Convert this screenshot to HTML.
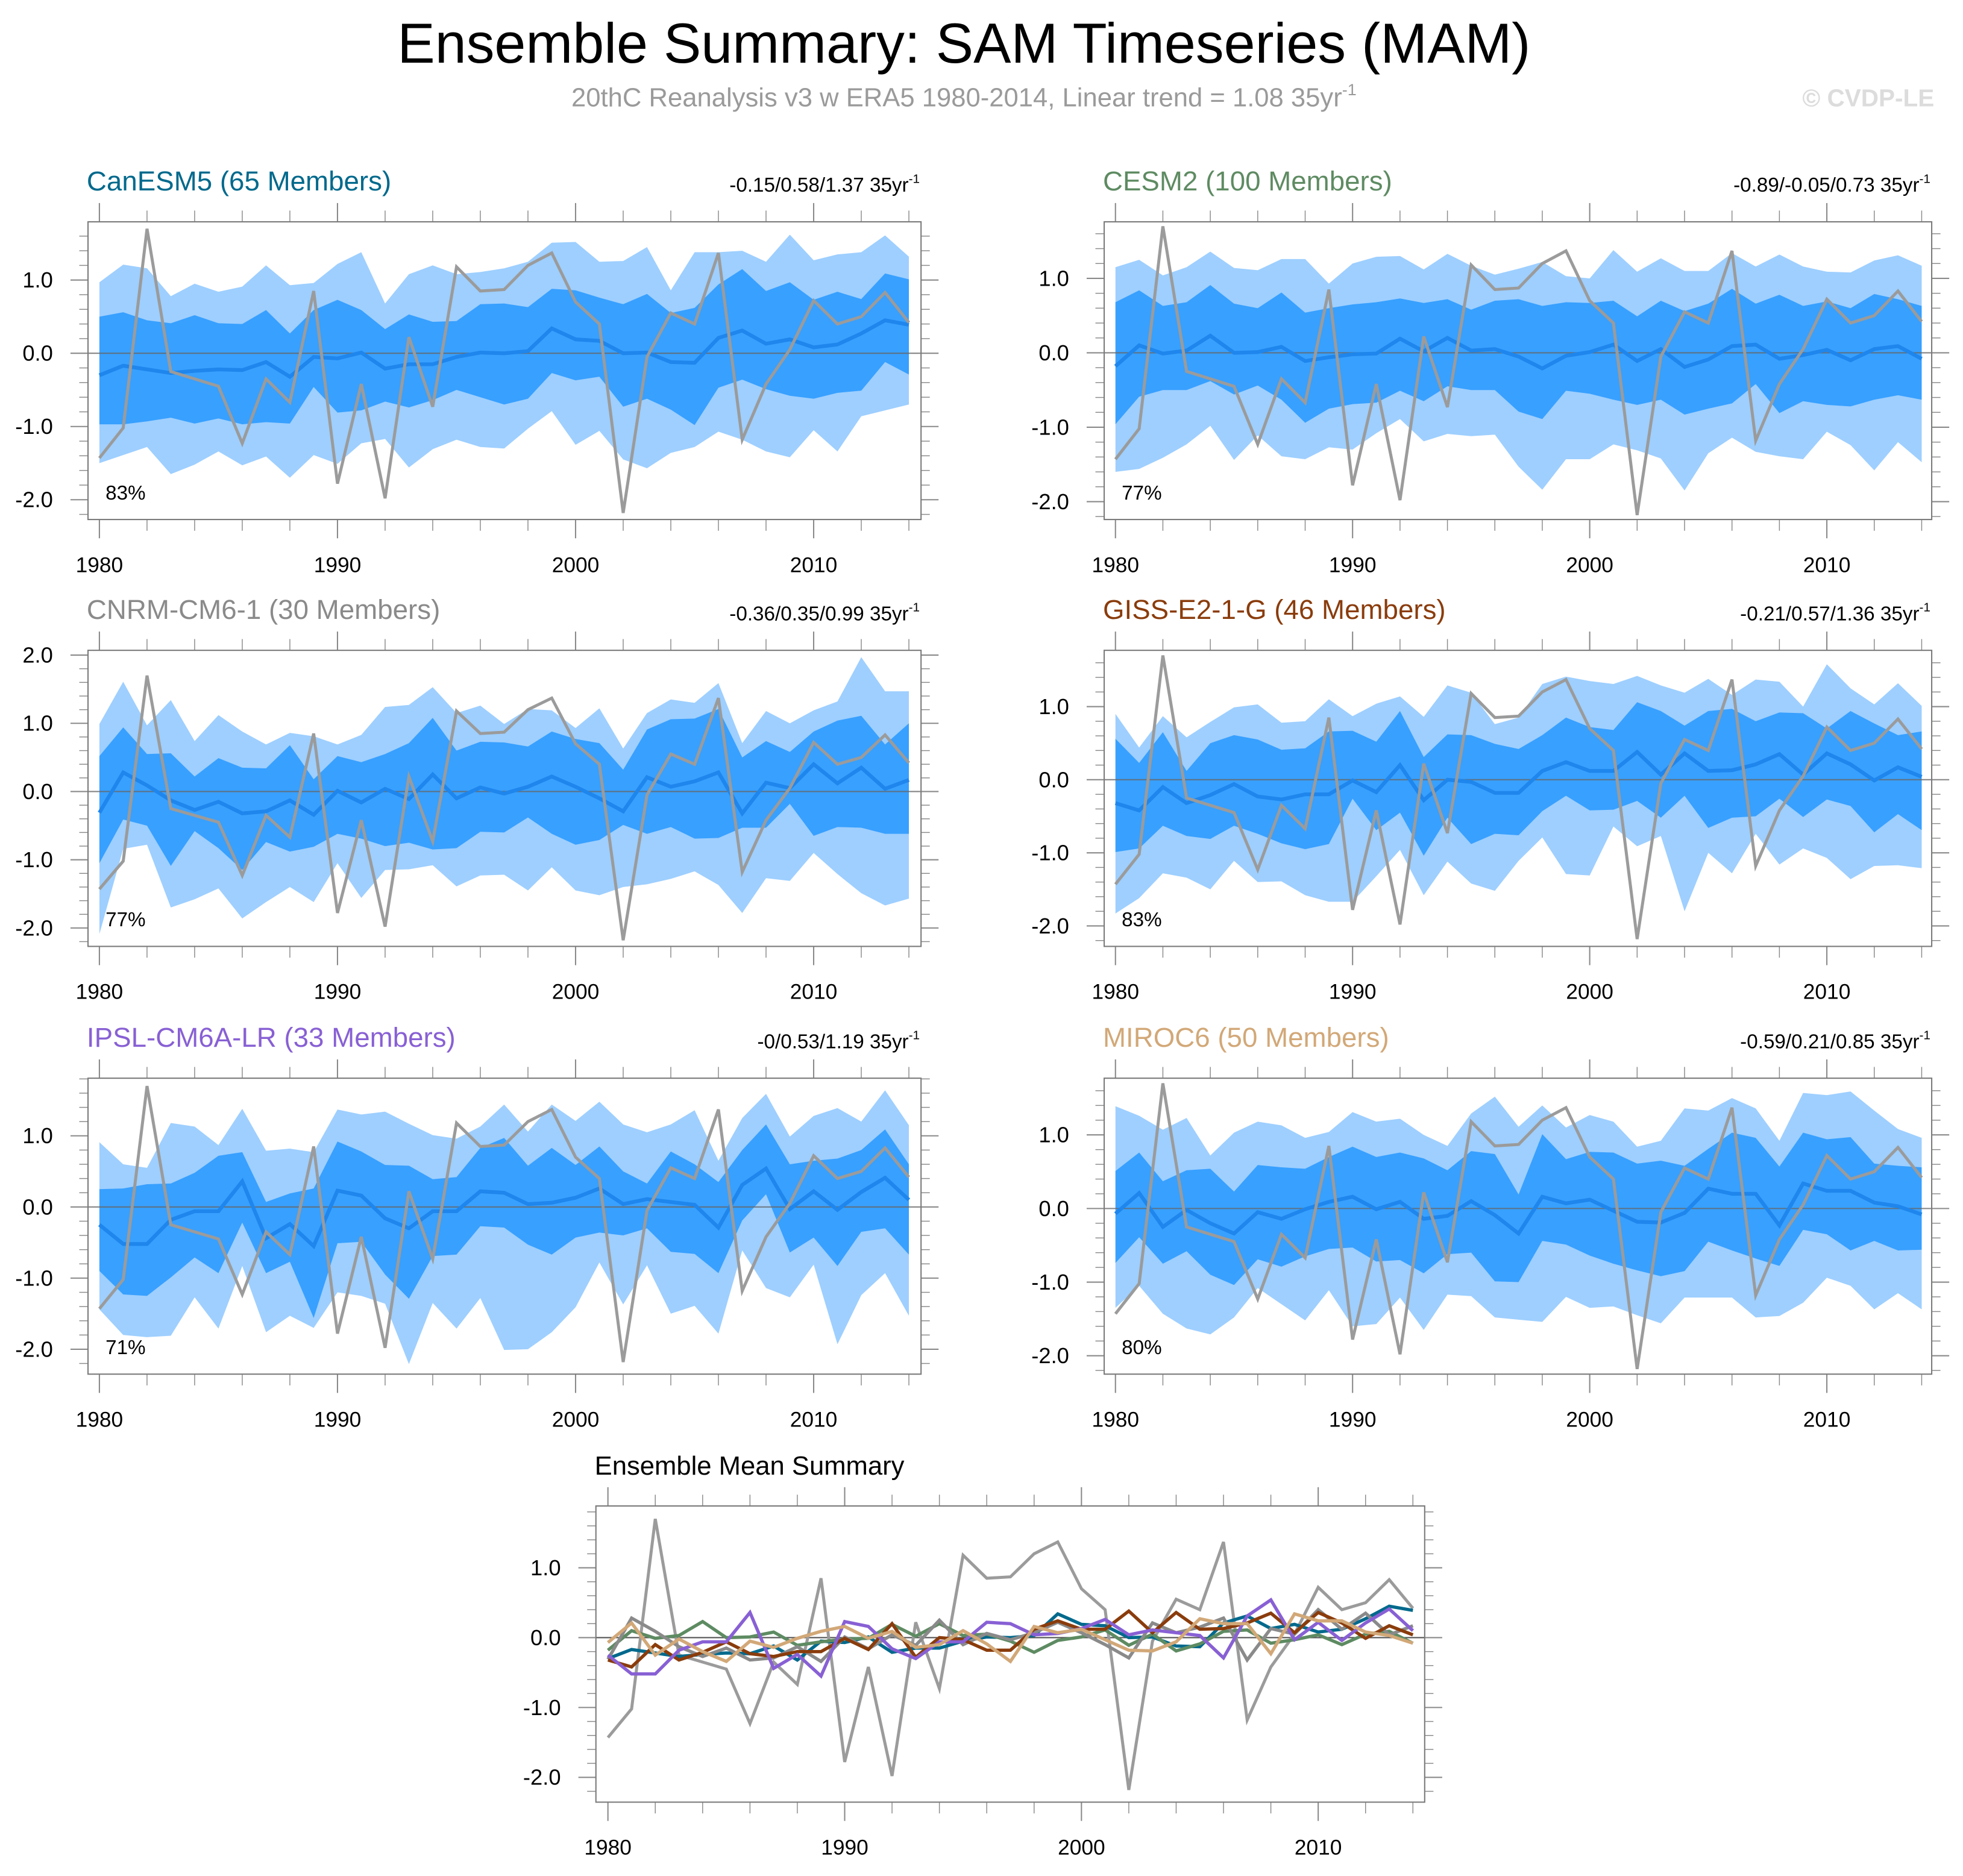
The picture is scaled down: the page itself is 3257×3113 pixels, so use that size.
<!DOCTYPE html>
<html><head><meta charset="utf-8"><style>
html,body{margin:0;padding:0;background:#fff;}
svg{display:block;font-family:"Liberation Sans",sans-serif;}
</style></head><body>
<svg id="chart" width="3257" height="3113" viewBox="0 0 1568 1498.6" preserveAspectRatio="none" xmlns="http://www.w3.org/2000/svg">
<rect x="0" y="0" width="1568" height="1500" fill="#fff"/>
<text x="770" y="50" font-size="45" text-anchor="middle" fill="#000">Ensemble Summary: SAM Timeseries (MAM)</text>
<text x="770" y="85" font-size="21" text-anchor="middle" fill="#9a9a9a">20thC Reanalysis v3 w ERA5 1980-2014, Linear trend = 1.08 35yr<tspan font-size="13" dy="-9">-1</tspan></text>
<text x="1545" y="85" font-size="19.5" font-weight="bold" text-anchor="end" fill="#dcdcdc">© CVDP-LE</text>
<g id="plots"></g>
</svg>
<script>
const years = [1980,1981,1982,1983,1984,1985,1986,1987,1988,1989,1990,1991,1992,1993,1994,1995,1996,1997,1998,1999,2000,2001,2002,2003,2004,2005,2006,2007,2008,2009,2010,2011,2012,2013,2014];
const xTickLabels = [1980,1990,2000,2010];
const obs = [-1.43,-1.02,1.70,-0.25,-0.35,-0.45,-1.23,-0.35,-0.67,0.85,-1.78,-0.42,-1.98,0.22,-0.73,1.18,0.85,0.87,1.20,1.37,0.70,0.40,-2.18,-0.05,0.55,0.40,1.37,-1.18,-0.42,0.05,0.72,0.40,0.50,0.83,0.42];

const canesm5Mean = [-0.30,-0.17,-0.22,-0.27,-0.24,-0.22,-0.23,-0.12,-0.32,-0.05,-0.07,0.01,-0.21,-0.15,-0.15,-0.05,0.01,0.00,0.03,0.34,0.19,0.17,0.00,0.01,-0.12,-0.13,0.21,0.31,0.13,0.19,0.08,0.12,0.27,0.45,0.39];
const canesm5DarkHi = [0.50,0.56,0.45,0.41,0.52,0.41,0.40,0.59,0.27,0.59,0.73,0.59,0.33,0.53,0.43,0.44,0.67,0.68,0.63,0.88,0.86,0.76,0.67,0.81,0.55,0.62,0.94,1.15,0.85,0.97,0.73,0.84,0.74,1.09,1.01];
const canesm5DarkLo = [-0.97,-0.97,-0.93,-0.88,-0.96,-0.89,-0.97,-0.94,-0.96,-0.46,-0.81,-0.78,-0.66,-0.74,-0.64,-0.50,-0.60,-0.70,-0.62,-0.27,-0.37,-0.32,-0.73,-0.62,-0.77,-0.98,-0.47,-0.36,-0.49,-0.58,-0.62,-0.54,-0.51,-0.12,-0.29];
const canesm5LightHi = [0.97,1.21,1.16,0.78,0.95,0.84,0.91,1.20,0.93,0.96,1.22,1.38,0.68,1.08,1.20,1.08,1.11,1.16,1.25,1.51,1.52,1.25,1.26,1.45,0.86,1.38,1.38,1.40,1.25,1.62,1.27,1.35,1.38,1.61,1.32];
const canesm5LightLo = [-1.50,-1.39,-1.28,-1.65,-1.52,-1.34,-1.53,-1.41,-1.70,-1.39,-1.51,-1.23,-1.17,-1.56,-1.31,-1.18,-1.28,-1.30,-1.03,-0.79,-1.25,-1.06,-1.45,-1.57,-1.36,-1.28,-1.07,-1.18,-1.34,-1.42,-1.05,-1.34,-0.86,-0.78,-0.70];

const cesm2Mean = [-0.18,0.10,-0.01,0.03,0.23,0.00,0.01,0.08,-0.11,-0.06,-0.02,-0.01,0.19,0.02,0.20,0.03,0.05,-0.05,-0.21,-0.04,0.01,0.11,-0.11,0.05,-0.19,-0.09,0.09,0.11,-0.08,-0.03,0.04,-0.10,0.05,0.09,-0.08];
const cesm2DarkHi = [0.68,0.84,0.63,0.68,0.91,0.66,0.60,0.81,0.54,0.60,0.65,0.68,0.73,0.67,0.72,0.58,0.70,0.72,0.63,0.68,0.67,0.70,0.49,0.70,0.56,0.66,0.86,0.66,0.78,0.63,0.69,0.60,0.79,0.72,0.63];
const cesm2DarkLo = [-0.96,-0.59,-0.50,-0.50,-0.38,-0.56,-0.44,-0.63,-0.94,-0.75,-0.69,-0.67,-0.51,-0.65,-0.45,-0.50,-0.50,-0.79,-0.89,-0.51,-0.55,-0.63,-0.70,-0.63,-0.83,-0.75,-0.68,-0.42,-0.81,-0.65,-0.70,-0.72,-0.63,-0.57,-0.63];
const cesm2LightHi = [1.15,1.25,1.04,1.15,1.36,1.14,1.11,1.26,1.26,0.93,1.20,1.29,1.30,1.12,1.33,1.17,1.05,1.13,1.22,1.03,1.00,1.38,1.09,1.27,1.10,1.10,1.34,1.16,1.32,1.16,1.09,1.08,1.24,1.31,1.17];
const cesm2LightLo = [-1.60,-1.56,-1.41,-1.23,-0.98,-1.44,-1.11,-1.39,-1.43,-1.27,-1.30,-1.08,-0.89,-1.19,-1.09,-1.12,-1.10,-1.53,-1.84,-1.43,-1.43,-1.23,-1.31,-1.42,-1.85,-1.35,-1.14,-1.33,-1.39,-1.43,-1.06,-1.24,-1.58,-1.20,-1.47];

const cnrmMean = [-0.31,0.28,0.09,-0.13,-0.27,-0.15,-0.32,-0.29,-0.13,-0.34,0.01,-0.16,0.04,-0.11,0.25,-0.10,0.06,-0.03,0.07,0.22,0.07,-0.10,-0.29,0.21,0.07,0.15,0.28,-0.32,0.13,0.05,0.40,0.12,0.35,0.04,0.17];
const cnrmDarkHi = [0.52,0.94,0.55,0.56,0.22,0.49,0.35,0.34,0.68,0.18,0.52,0.43,0.55,0.71,1.08,0.60,0.73,0.72,0.66,0.88,0.77,0.71,0.32,0.91,1.06,1.07,1.21,0.50,0.74,0.58,0.88,1.04,1.11,0.69,1.00];
const cnrmDarkLo = [-1.05,-0.41,-0.50,-1.09,-0.58,-0.83,-1.15,-0.74,-0.88,-0.81,-0.62,-0.69,-0.80,-0.75,-0.85,-0.83,-0.59,-0.60,-0.38,-0.62,-0.78,-0.71,-0.49,-0.62,-0.52,-0.69,-0.68,-0.53,-0.53,-0.18,-0.65,-0.52,-0.53,-0.62,-0.62];
const cnrmLightHi = [0.99,1.61,0.97,1.34,0.74,1.12,0.88,0.69,0.86,0.81,0.69,0.83,1.24,1.27,1.53,1.15,1.26,0.99,1.21,1.19,0.93,1.22,0.63,1.15,1.35,1.30,1.59,0.71,1.18,1.00,1.19,1.32,1.97,1.47,1.47];
const cnrmLightLo = [-2.09,-0.84,-0.78,-1.70,-1.58,-1.42,-1.86,-1.62,-1.40,-1.62,-1.05,-1.56,-1.15,-1.14,-1.08,-1.39,-1.23,-1.22,-1.45,-1.11,-1.45,-1.52,-1.40,-1.36,-1.28,-1.17,-1.37,-1.78,-1.27,-1.31,-0.90,-1.21,-1.49,-1.67,-1.57];

const gissMean = [-0.32,-0.42,-0.10,-0.32,-0.21,-0.06,-0.23,-0.27,-0.20,-0.20,-0.01,-0.17,0.20,-0.28,0.00,-0.03,-0.18,-0.18,0.12,0.24,0.12,0.12,0.38,0.07,0.36,0.12,0.13,0.21,0.35,0.07,0.36,0.21,-0.01,0.17,0.04];
const gissDarkHi = [0.56,0.23,0.65,0.12,0.50,0.61,0.55,0.41,0.43,0.66,0.67,0.52,0.94,0.31,0.62,0.61,0.49,0.42,0.61,0.85,0.72,0.68,1.06,0.94,0.74,0.94,0.97,0.80,0.92,0.91,0.70,0.94,0.77,0.61,0.66];
const gissDarkLo = [-0.99,-0.94,-0.63,-0.77,-0.81,-0.63,-0.74,-0.87,-0.95,-0.88,-0.26,-0.69,-0.45,-1.04,-0.52,-0.88,-0.74,-0.76,-0.43,-0.22,-0.42,-0.41,-0.29,-0.52,-0.22,-0.66,-0.52,-0.50,-0.26,-0.51,-0.27,-0.36,-0.72,-0.47,-0.69];
const gissLightHi = [0.90,0.44,0.87,0.58,0.79,0.99,1.03,0.78,0.80,1.10,0.87,1.04,1.14,0.86,1.29,1.19,0.76,0.85,1.31,1.41,1.35,1.31,1.42,1.29,1.19,1.38,1.16,1.37,1.34,1.00,1.58,1.25,1.03,1.32,1.01];
const gissLightLo = [-1.83,-1.62,-1.28,-1.34,-1.50,-1.11,-1.40,-1.39,-1.58,-1.67,-1.67,-1.32,-0.96,-1.58,-1.12,-1.42,-1.52,-1.11,-0.79,-1.29,-1.31,-0.64,-0.91,-0.77,-1.80,-1.00,-1.28,-0.74,-1.16,-0.94,-1.07,-1.36,-1.18,-1.17,-1.21];

const ipslMean = [-0.25,-0.52,-0.52,-0.18,-0.06,-0.06,0.36,-0.44,-0.24,-0.55,0.23,0.16,-0.16,-0.30,-0.06,-0.06,0.22,0.20,0.04,0.06,0.13,0.26,0.04,0.11,0.07,0.03,-0.29,0.31,0.54,-0.03,0.22,-0.04,0.21,0.41,0.10];
const ipslDarkHi = [0.25,0.26,0.32,0.33,0.48,0.72,0.77,0.07,0.19,0.26,0.92,0.78,0.59,0.58,0.39,0.42,0.83,0.97,0.58,0.83,0.59,0.85,0.50,0.33,0.78,0.60,0.35,0.80,1.16,0.60,0.65,0.68,0.80,1.09,0.60];
const ipslDarkLo = [-0.90,-1.23,-1.25,-0.99,-0.71,-0.93,-0.22,-0.93,-0.77,-1.56,-0.51,-0.49,-0.95,-1.29,-0.69,-0.67,-0.27,-0.29,-0.53,-0.67,-0.43,-0.36,-0.40,-0.30,-0.63,-0.66,-0.93,-0.19,0.18,-0.64,-0.43,-0.83,-0.35,-0.30,-0.67];
const ipslLightHi = [0.91,0.60,0.55,1.18,1.13,0.87,1.38,0.79,0.82,0.77,1.37,1.30,1.34,1.17,1.01,0.96,1.13,1.44,1.06,1.44,1.21,1.48,1.16,1.05,1.16,1.36,0.65,1.25,1.59,0.99,1.28,1.39,1.20,1.64,1.15];
const ipslLightLo = [-1.44,-1.80,-1.83,-1.81,-1.27,-1.71,-0.83,-1.76,-1.53,-1.70,-1.20,-1.25,-1.36,-2.21,-1.35,-1.71,-1.28,-2.01,-2.00,-1.76,-1.41,-0.78,-1.37,-0.82,-1.50,-1.39,-1.78,-0.61,-1.14,-1.27,-0.81,-1.93,-1.24,-0.93,-1.53];

const mirocMean = [-0.07,0.21,-0.25,-0.02,-0.20,-0.34,-0.05,-0.14,-0.01,0.09,0.16,-0.01,0.09,-0.14,-0.10,0.10,-0.09,-0.34,0.16,0.07,0.12,-0.03,-0.18,-0.19,-0.06,0.27,0.20,0.20,-0.23,0.34,0.24,0.24,0.08,0.03,-0.08];
const mirocDarkHi = [0.51,0.76,0.37,0.52,0.54,0.23,0.59,0.56,0.54,0.70,0.84,0.70,0.76,0.68,0.52,0.78,0.74,0.19,1.01,0.67,0.77,0.76,0.61,0.65,0.58,0.81,1.03,0.96,0.57,1.03,0.94,0.97,0.61,0.58,0.56];
const mirocDarkLo = [-0.74,-0.39,-0.75,-0.58,-0.90,-1.04,-0.69,-0.79,-0.65,-0.55,-0.53,-0.72,-0.70,-0.88,-0.62,-0.60,-0.99,-1.00,-0.44,-0.49,-0.64,-0.75,-0.84,-0.92,-0.85,-0.45,-0.57,-0.68,-0.78,-0.29,-0.35,-0.57,-0.44,-0.57,-0.56];
const mirocLightHi = [1.39,1.26,1.07,1.23,0.72,1.03,1.18,1.13,0.96,1.04,1.31,1.18,1.22,1.00,0.85,1.29,1.52,1.11,1.40,1.10,1.27,1.18,0.84,0.92,1.36,1.33,1.50,1.36,0.92,1.57,1.54,1.59,1.33,1.08,0.96];
const mirocLightLo = [-1.35,-1.05,-1.43,-1.63,-1.71,-1.48,-1.08,-1.30,-1.52,-1.11,-1.60,-1.57,-1.21,-1.65,-1.17,-1.19,-1.48,-1.51,-1.54,-1.20,-1.35,-1.33,-1.45,-1.56,-1.21,-1.21,-1.21,-1.48,-1.46,-1.28,-0.94,-1.05,-1.37,-1.15,-1.37];

const modelNames = ["CanESM5 (65 Members)","CESM2 (100 Members)","CNRM-CM6-1 (30 Members)","GISS-E2-1-G (46 Members)","IPSL-CM6A-LR (33 Members)","MIROC6 (50 Members)"];
const trendLabels = ["-0.15/0.58/1.37 35yr","-0.89/-0.05/0.73 35yr","-0.36/0.35/0.99 35yr","-0.21/0.57/1.36 35yr","-0/0.53/1.19 35yr","-0.59/0.21/0.85 35yr"];
const pctLabels = ["83%","77%","77%","83%","71%","80%"];

const NS = "http://www.w3.org/2000/svg";
const root = document.getElementById("plots");
const models = [
 {key:"canesm5", color:"#00698c", mean:canesm5Mean, dh:canesm5DarkHi, dl:canesm5DarkLo, lh:canesm5LightHi, ll:canesm5LightLo},
 {key:"cesm2", color:"#5e8b62", mean:cesm2Mean, dh:cesm2DarkHi, dl:cesm2DarkLo, lh:cesm2LightHi, ll:cesm2LightLo},
 {key:"cnrm-cm6-1", color:"#8a8a8a", mean:cnrmMean, dh:cnrmDarkHi, dl:cnrmDarkLo, lh:cnrmLightHi, ll:cnrmLightLo},
 {key:"giss-e2-1-g", color:"#8a3c0c", mean:gissMean, dh:gissDarkHi, dl:gissDarkLo, lh:gissLightHi, ll:gissLightLo},
 {key:"ipsl-cm6a-lr", color:"#8860d4", mean:ipslMean, dh:ipslDarkHi, dl:ipslDarkLo, lh:ipslLightHi, ll:ipslLightLo},
 {key:"miroc6", color:"#d2a878", mean:mirocMean, dh:mirocDarkHi, dl:mirocDarkLo, lh:mirocLightHi, ll:mirocLightLo}
];
const geoms = [
 {L:70.3,R:735.7,T:177.2,B:415,x0:79.4,x1:726,vt:1.795,vb:-2.27},
 {L:882,R:1543,T:177.2,B:415,x0:891,x1:1535,vt:1.76,vb:-2.24},
 {L:70.3,R:735.7,T:519.5,B:756,x0:79.4,x1:726,vt:2.07,vb:-2.27},
 {L:882,R:1543,T:519.5,B:756,x0:891,x1:1535,vt:1.77,vb:-2.28},
 {L:70.3,R:735.7,T:861.3,B:1097.7,x0:79.4,x1:726,vt:1.81,vb:-2.35},
 {L:882,R:1543,T:861.3,B:1097.7,x0:891,x1:1535,vt:1.77,vb:-2.25}
];
function mk(tag, attrs, parent){
  const e = document.createElementNS(NS, tag);
  for (const k in attrs) e.setAttribute(k, attrs[k]);
  (parent||root).appendChild(e);
  return e;
}
function xScale(g){ return y => g.x0 + (y - years[0])/(years[years.length-1]-years[0])*(g.x1-g.x0); }
function yScale(g){ return v => g.T + (g.vt - v)/(g.vt - g.vb)*(g.B - g.T); }
function linePts(xs, ys, vals){ return vals.map((v,i)=>xs(years[i]).toFixed(2)+","+ys(v).toFixed(2)).join(" "); }
function bandPts(xs, ys, hi, lo){
  const a = hi.map((v,i)=>xs(years[i]).toFixed(2)+","+ys(v).toFixed(2));
  const b = lo.map((v,i)=>xs(years[i]).toFixed(2)+","+ys(v).toFixed(2)).reverse();
  return a.concat(b).join(" ");
}
function axes(g, grp, name){
  const xs = xScale(g), ys = yScale(g);
  const tc = "#8a8a8a";
  const start = Math.ceil(g.vb*5), end = Math.floor(g.vt*5);
  for (let k=start; k<=end; k++){
    const v = k/5, y = ys(v), major = (k%5===0);
    const len = major ? 14 : 7;
    mk("line",{x1:g.L-len,y1:y,x2:g.L,y2:y,stroke:tc,"stroke-width":major?1:0.7},grp);
    mk("line",{x1:g.R,y1:y,x2:g.R+len,y2:y,stroke:tc,"stroke-width":major?1:0.7},grp);
    if (major){
      const t = mk("text",{x:g.L-28,y:y+6,"font-size":17.5,"text-anchor":"end",fill:"#000"},grp);
      t.textContent = v.toFixed(1);
      
      
    }
  }
  for (let yr=years[0]; yr<=years[years.length-1]; yr+=2){
    const x = xs(yr), major = xTickLabels.includes(yr);
    const len = major ? 15 : 9;
    mk("line",{x1:x,y1:g.B,x2:x,y2:g.B+len,stroke:tc,"stroke-width":major?1:0.7},grp);
    mk("line",{x1:x,y1:g.T-len,x2:x,y2:g.T,stroke:tc,"stroke-width":major?1:0.7},grp);
  }
  xTickLabels.forEach(yr=>{
    const t = mk("text",{x:xs(yr),y:g.B+42,"font-size":17,"text-anchor":"middle",fill:"#000"},grp);
    t.textContent = yr;
    
    
  });
  mk("rect",{x:g.L,y:g.T,width:g.R-g.L,height:g.B-g.T,fill:"none",stroke:"#7a7a7a","stroke-width":1},grp);
}

models.forEach((m, idx)=>{
  const g = geoms[idx], xs = xScale(g), ys = yScale(g);
  const grp = mk("g",{});
  
  
  const lb = mk("polygon",{points:bandPts(xs,ys,m.lh,m.ll),fill:"#9ecfff"},grp);
  
  
  const db = mk("polygon",{points:bandPts(xs,ys,m.dh,m.dl),fill:"#38a0ff"},grp);
  
  
  const z = mk("line",{x1:g.L,y1:ys(0),x2:g.R,y2:ys(0),stroke:"#666","stroke-width":1,"stroke-opacity":0.8},grp);
  
  
  const ml = mk("polyline",{points:linePts(xs,ys,m.mean),fill:"none",stroke:"#1e86ec","stroke-width":3},grp);
  
  
  const ol = mk("polyline",{points:linePts(xs,ys,obs),fill:"none",stroke:"#9b9b9b","stroke-width":2.4},grp);
  
  
  axes(g, grp, m.key);
  const tt = mk("text",{x:g.L-1,y:g.T-25,"font-size":22,fill:m.color},grp);
  tt.textContent = modelNames[idx];
  
  
  const tr = mk("text",{x:g.R-1,y:g.T-24,"font-size":16,"text-anchor":"end",fill:"#000"},grp);
  tr.textContent = trendLabels[idx];
  const sup = mk("tspan",{"font-size":10,dy:-7},tr);
  sup.textContent = "-1";
  
  
  const pc = mk("text",{x:g.L+14,y:g.B-16,"font-size":16,fill:"#000"},grp);
  pc.textContent = pctLabels[idx];
  
  
});

(function(){
  const g = {L:476,R:1138,T:1203,B:1439.6,x0:485.6,x1:1128.6,vt:1.885,vb:-2.355};
  const xs = xScale(g), ys = yScale(g);
  const grp = mk("g",{});
  
  
  const z = mk("line",{x1:g.L,y1:ys(0),x2:g.R,y2:ys(0),stroke:"#555","stroke-width":1},grp);
  
  
  const ol = mk("polyline",{points:linePts(xs,ys,obs),fill:"none",stroke:"#9b9b9b","stroke-width":2.4},grp);
  
  
  models.forEach(m=>{
    const l = mk("polyline",{points:linePts(xs,ys,m.mean),fill:"none",stroke:m.color,"stroke-width":2.6},grp);
    
    
  });
  axes(g, grp, 'summary');
  const t = mk("text",{x:g.L-1,y:g.T-25,"font-size":21,fill:"#000"},grp);
  t.textContent = "Ensemble Mean Summary";
  
  
})();
</script>
</body></html>
